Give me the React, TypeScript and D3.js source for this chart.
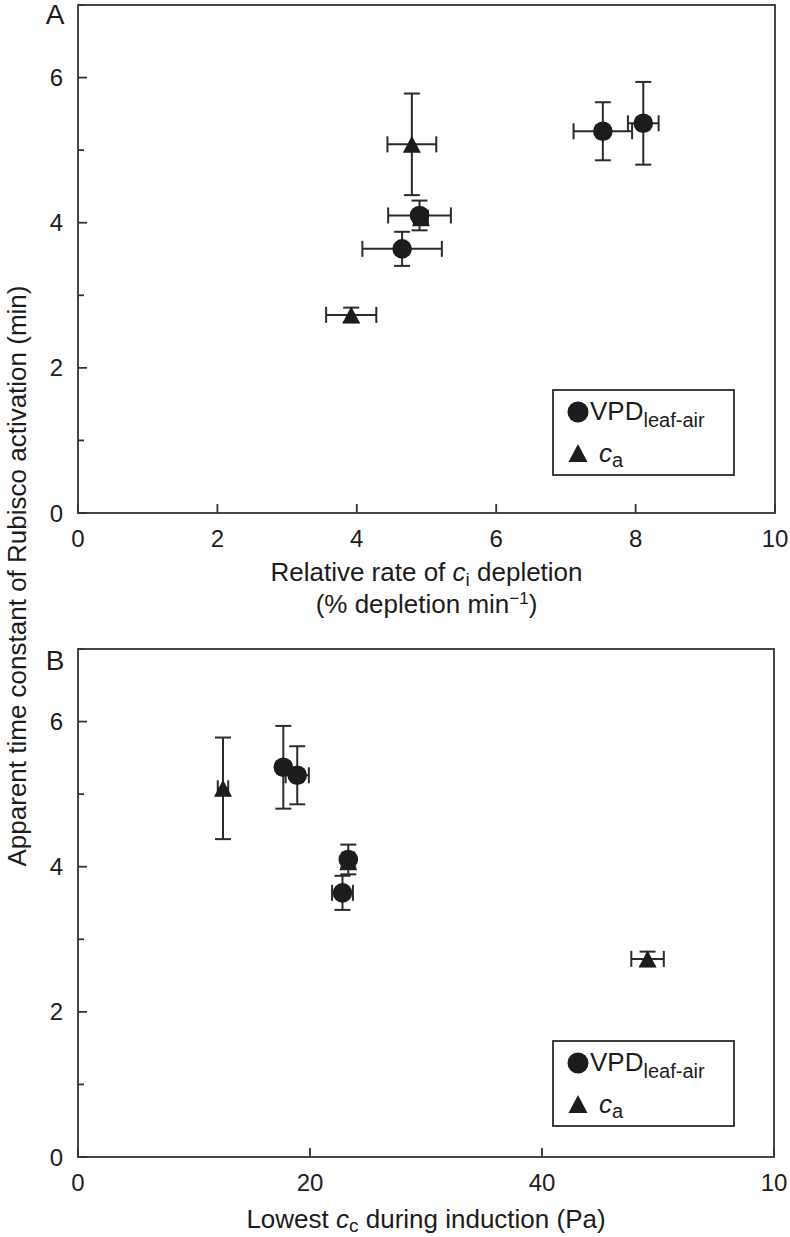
import React from 'react';
import * as d3 from 'd3';

// ---- Data ----
// VPD(leaf-air) series (circles)
const vpdRate = [4.65, 4.9, 7.53, 8.11];          // panel A x: relative rate of ci depletion
const vpdRateErr = [0.57, 0.45, 0.42, 0.22];
const vpdTau = [3.64, 4.1, 5.26, 5.37];           // y: apparent time constant (min)
const vpdTauErr = [0.235, 0.205, 0.4, 0.57];
const vpdCc = [22.8, 23.3, 18.9, 17.7];           // panel B x: lowest cc (Pa)
const vpdCcErr = [0.9, 0.5, 1.0, 0.3];

// ca series (triangles)
const caRate = [3.92, 4.79, 4.92];
const caRateErr = [0.36, 0.35, 0.1];
const caTau = [2.73, 5.08, 4.07];
const caTauErr = [0.1, 0.7, 0.08];
const caCc = [49.1, 12.5, 23.3];
const caCcErr = [1.4, 0.45, 0.3];

// Axis ticks
const yTicks = [0, 1, 2, 3, 4, 5, 6, 7];
const yTickLabels = ['0', '', '2', '', '4', '', '6', ''];
const xTicksA = [0, 2, 4, 6, 8, 10];
const xTickLabelsA = ['0', '2', '4', '6', '8', '10'];
const xTicksB = [0, 20, 40, 60];
const xTickLabelsB = ['0', '20', '40', '10'];

const FONT = '"Liberation Sans", Arial, Helvetica, sans-serif';
const INK = '#1c1c1c';
const LINE = '#2b2b2b';

type Pt = { x: number; y: number; xe: number; ye: number };

function tri(cx: number, cy: number, w = 18, h = 17) {
  return `M${cx},${cy - h / 2}L${cx + w / 2},${cy + h / 2}L${cx - w / 2},${cy + h / 2}Z`;
}

function ErrPoint({ p, xs, ys, shape }: { p: Pt; xs: any; ys: any; shape: 'c' | 't' }) {
  const cx = xs(p.x), cy = ys(p.y);
  const x0 = xs(p.x - p.xe), x1 = xs(p.x + p.xe);
  const y0 = ys(p.y - p.ye), y1 = ys(p.y + p.ye);
  const cap = 8;
  return (
    <g>
      <g stroke={LINE} strokeWidth={2} fill="none">
        <line x1={x0} x2={x1} y1={cy} y2={cy} />
        <line x1={x0} x2={x0} y1={cy - cap} y2={cy + cap} />
        <line x1={x1} x2={x1} y1={cy - cap} y2={cy + cap} />
        <line x1={cx} x2={cx} y1={y0} y2={y1} />
        <line x1={cx - cap} x2={cx + cap} y1={y0} y2={y0} />
        <line x1={cx - cap} x2={cx + cap} y1={y1} y2={y1} />
      </g>
      {shape === 'c' ? (
        <circle cx={cx} cy={cy} r={9.8} fill={INK} />
      ) : (
        <path d={tri(cx, cy)} fill={INK} />
      )}
    </g>
  );
}

function Legend({ x, y }: { x: number; y: number }) {
  return (
    <g fontFamily={FONT} fill={INK}>
      <rect x={x} y={y} width={181} height={85} fill="#fff" stroke={LINE} strokeWidth={1.8} />
      <circle cx={x + 25} cy={y + 22} r={10.5} fill={INK} />
      <text x={x + 37} y={y + 30} fontSize={26}>
        VPD<tspan fontSize={20} dy={7}>leaf-air</tspan>
      </text>
      <path d={tri(x + 25, y + 63, 19, 18)} fill={INK} />
      <text x={x + 46} y={y + 72} fontSize={26}>
        <tspan fontStyle="italic">c</tspan>
        <tspan fontSize={20} dy={5}>a</tspan>
      </text>
    </g>
  );
}

function Panel({
  top, bottom, left, right, xDomain, xTicks, xTickLabels, vpdX, vpdXe, caX, caXe, legendY,
}: any) {
  const xs = d3.scaleLinear().domain(xDomain).range([left, right]);
  const ys = d3.scaleLinear().domain([0, 7]).range([bottom, top]);
  const vpdPts: Pt[] = vpdX.map((v: number, i: number) => ({ x: v, y: vpdTau[i], xe: vpdXe[i], ye: vpdTauErr[i] }));
  const caPts: Pt[] = caX.map((v: number, i: number) => ({ x: v, y: caTau[i], xe: caXe[i], ye: caTauErr[i] }));
  return (
    <g>
      <rect x={left} y={top} width={right - left} height={bottom - top} fill="none" stroke="#333" strokeWidth={1.8} />
      {yTicks.map((t) => (
        <line key={'yt' + t} x1={left} x2={left + (t % 2 === 0 ? 9 : 6)} y1={ys(t)} y2={ys(t)} stroke="#333" strokeWidth={1.8} />
      ))}
      {yTicks.map((t, i) =>
        yTickLabels[i] ? (
          <text key={'yl' + t} x={left - 15} y={ys(t) + 8.5} textAnchor="end" fontFamily={FONT} fontSize={24} fill={INK}>
            {yTickLabels[i]}
          </text>
        ) : null
      )}
      {xTicks.map((t: number) => (
        <line key={'xt' + t} x1={xs(t)} x2={xs(t)} y1={bottom} y2={bottom - 9} stroke="#333" strokeWidth={1.8} />
      ))}
      {xTicks.map((t: number, i: number) => (
        <text key={'xl' + t} x={xs(t)} y={bottom + 34} textAnchor="middle" fontFamily={FONT} fontSize={24} fill={INK}>
          {xTickLabels[i]}
        </text>
      ))}
      <Legend x={553} y={legendY} />
      {caPts.map((p, i) => <ErrPoint key={'c' + i} p={p} xs={xs} ys={ys} shape="t" />)}
      {vpdPts.map((p, i) => <ErrPoint key={'v' + i} p={p} xs={xs} ys={ys} shape="c" />)}
    </g>
  );
}

export default function App() {
  return (
    <svg width={790} height={1237} style={{ position: 'absolute', left: 0, top: 0, background: '#fff' }}>
      <rect x={0} y={0} width={790} height={1237} fill="#fff" />
      <Panel
        top={5} bottom={513} left={78} right={775}
        xDomain={[0, 10]} xTicks={xTicksA} xTickLabels={xTickLabelsA}
        vpdX={vpdRate} vpdXe={vpdRateErr} caX={caRate} caXe={caRateErr}
        legendY={390}
      />
      <Panel
        top={649} bottom={1157} left={78} right={774}
        xDomain={[0, 60]} xTicks={xTicksB} xTickLabels={xTickLabelsB}
        vpdX={vpdCc} vpdXe={vpdCcErr} caX={caCc} caXe={caCcErr}
        legendY={1041}
      />
      <g fontFamily={FONT} fill={INK}>
        <text x={55} y={24} fontSize={28} textAnchor="middle">A</text>
        <text x={55} y={670} fontSize={28} textAnchor="middle">B</text>
        <text x={426.5} y={581} fontSize={26} textAnchor="middle">
          Relative rate of <tspan fontStyle="italic">c</tspan>
          <tspan fontSize={19} dy={5}>i</tspan>
          <tspan dy={-5}> depletion</tspan>
        </text>
        <text x={426.5} y={613} fontSize={26} textAnchor="middle">
          (% depletion min<tspan fontSize={17} dy={-9}>−1</tspan>
          <tspan dy={9}>)</tspan>
        </text>
        <text x={426} y={1228} fontSize={26} textAnchor="middle">
          Lowest <tspan fontStyle="italic">c</tspan>
          <tspan fontSize={19} dy={4}>c</tspan>
          <tspan dy={-4}> during induction (Pa)</tspan>
        </text>
        <text transform="translate(26,576) rotate(-90)" fontSize={26} textAnchor="middle">
          Apparent time constant of Rubisco activation (min)
        </text>
      </g>
    </svg>
  );
}
